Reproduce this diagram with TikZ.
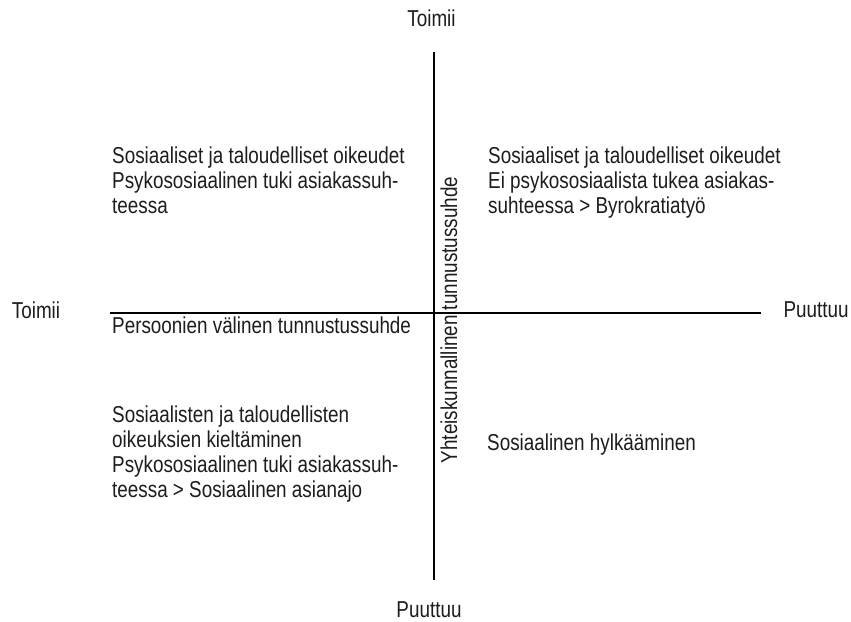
\documentclass[tikz,border=0pt]{standalone}
\usepackage{fontspec}
\setmainfont[FakeStretch=0.82]{Liberation Sans}
\definecolor{txt}{RGB}{30,28,29}
\begin{document}
\begin{tikzpicture}[x=1pt,y=-1pt,
  lbl/.style={font=\fontsize{23}{24.8}\selectfont, text=txt, inner sep=0pt, align=left},
  axis/.style={line width=1.2pt, draw=black}]
\useasboundingbox (0,0) rectangle (851,621);
\coordinate (vt) at (434,52);
\coordinate (vb) at (434,580);
\coordinate (hl) at (110,313);
\coordinate (hr) at (761,313);
\draw[axis] (vt) -- (vb);
\draw[axis] (hl) -- (hr);
\node[lbl] (ttop) at (431.5,18.5) {Toimii};
\node[lbl] (tbot) at (429,610) {Puuttuu};
\node[lbl] (tleft) at (36,310) {Toimii};
\node[lbl] (tright) at (816,310) {Puuttuu};
\node[lbl, rotate=90, anchor=base] (vlab) at (457,320) {Yhteiskunnallinen tunnustussuhde};
\node[lbl, anchor=base west] (hlab) at (112,333) {Persoonien välinen tunnustussuhde};
\node[lbl, anchor=north west] (q1) at (112,147) {Sosiaaliset ja taloudelliset oikeudet\\Psykososiaalinen tuki asiakassuh-\\teessa};
\node[lbl, anchor=north west] (q2) at (488,147) {Sosiaaliset ja taloudelliset oikeudet\\Ei psykososiaalista tukea asiakas-\\suhteessa > Byrokratiatyö};
\node[lbl, anchor=north west] (q3) at (112,406) {Sosiaalisten ja taloudellisten\\oikeuksien kieltäminen\\Psykososiaalinen tuki asiakassuh-\\teessa > Sosiaalinen asianajo};
\node[lbl, anchor=base west] (q4) at (487,450) {Sosiaalinen hylkääminen};
\end{tikzpicture}
\end{document}
